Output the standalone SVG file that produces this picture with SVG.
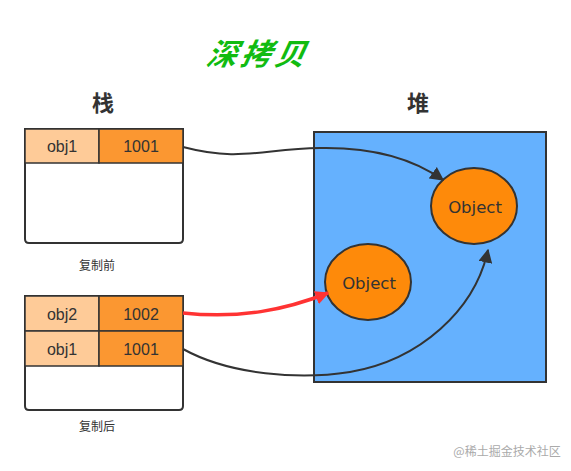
<svg xmlns="http://www.w3.org/2000/svg" width="571" height="471" viewBox="0 0 571 471">
<style>
.box{fill:#fff;stroke:#333;stroke-width:2}
.k{fill:#fecb98;stroke:#333;stroke-width:1.5}
.v{fill:#fb9731;stroke:#333;stroke-width:1.5}
.t{font-family:"Liberation Sans",Arial,sans-serif;font-size:16px;fill:#333;text-anchor:middle}
.ot{font-family:"DejaVu Sans",sans-serif;font-size:16.5px;fill:#333;text-anchor:middle}
.cn{font-family:"Noto Sans CJK SC",sans-serif;fill:#333;text-anchor:middle}
.obj{fill:#fe8a0a;stroke:#333;stroke-width:2}
.c{fill:none;stroke:#333;stroke-width:2}
</style>
<defs>
<marker id="ahr" viewBox="0 0 10 10" refX="9" refY="5" markerWidth="14" markerHeight="14" orient="auto" markerUnits="userSpaceOnUse">
<path d="M0,0 L10,5 L0,10 z" fill="#ff3333"/>
</marker>
<marker id="ahd" viewBox="0 0 10 10" refX="9" refY="5" markerWidth="14" markerHeight="14" orient="auto" markerUnits="userSpaceOnUse">
<path d="M0,0 L10,5 L0,10 z" fill="#333"/>
</marker>
</defs>
<rect width="571" height="471" fill="#fff"/>
<text x="256" y="65" font-family="Noto Sans CJK SC,sans-serif" font-size="30" font-weight="bold" font-style="italic" letter-spacing="4" fill="#11bb11" text-anchor="middle" transform="skewX(-12) translate(14,0)">深拷贝</text>
<text x="103" y="111" class="cn" font-size="22" font-weight="bold">栈</text>
<text x="418" y="111" class="cn" font-size="22" font-weight="bold">堆</text>
<g id="stack-before">
<path class="box" d="M25,129 H183 V239 Q183,243 179,243 H29 Q25,243 25,239 Z"/>
<rect class="k" x="25" y="129" width="74" height="34"/>
<rect class="v" x="99" y="129" width="84" height="34"/>
<text class="t" x="62" y="152">obj1</text>
<text class="t" x="141" y="152">1001</text>
<text class="cn" x="97" y="270" font-size="12">复制前</text>
</g>
<g id="stack-after">
<path class="box" d="M25,296 H183 V406 Q183,410 179,410 H29 Q25,410 25,406 Z"/>
<rect class="k" x="25" y="296" width="74" height="35"/>
<rect class="v" x="99" y="296" width="84" height="35"/>
<rect class="k" x="25" y="331" width="74" height="35"/>
<rect class="v" x="99" y="331" width="84" height="35"/>
<text class="t" x="62" y="320">obj2</text>
<text class="t" x="141" y="320">1002</text>
<text class="t" x="62" y="355">obj1</text>
<text class="t" x="141" y="355">1001</text>
<text class="cn" x="97" y="431" font-size="12">复制后</text>
</g>
<g id="heap">
<rect x="314" y="132" width="232" height="250" fill="#65b1fe" stroke="#333" stroke-width="2"/>
</g>
<g id="object1">
<ellipse class="obj" cx="474" cy="206" rx="43" ry="38"/>
<text class="ot" x="475" y="213">Object</text>
</g>
<g id="object2">
<ellipse class="obj" cx="368" cy="282" rx="43" ry="38"/>
<text class="ot" x="369" y="289">Object</text>
</g>
<g id="connectors">
<path class="c" d="M183,147 C240,162 262,149 320,148 C375,147 415,160 443,180" marker-end="url(#ahd)"/>
<path d="M183,313 C240,319 285,310 328,293" fill="none" stroke="#ff3333" stroke-width="3.5" marker-end="url(#ahr)"/>
<path class="c" d="M183,349 C230,375 300,380 350,372 C420,360 475,310 488,250" marker-end="url(#ahd)"/>
</g>
<text x="507" y="456" font-family="Noto Sans CJK SC,sans-serif" font-size="12" fill="#aaa" text-anchor="middle">@稀土掘金技术社区</text>
</svg>
